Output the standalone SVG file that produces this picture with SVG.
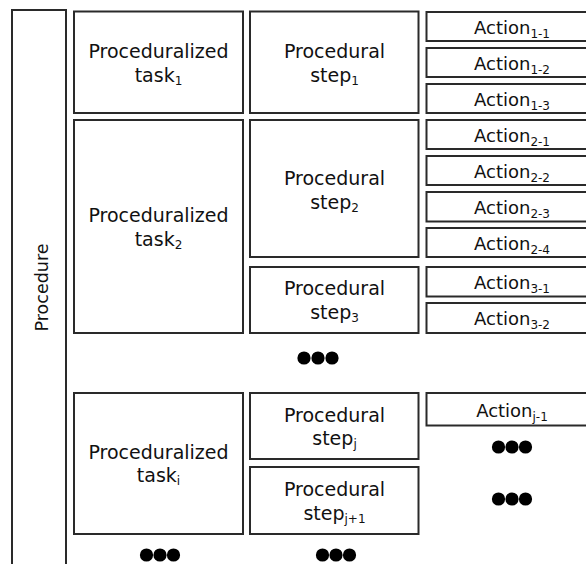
<svg xmlns="http://www.w3.org/2000/svg" width="586" height="564" viewBox="0 0 586 564">
<style>
.b{fill:#fff;stroke:#2a2a2a;stroke-width:2}
.t{font-family:"DejaVu Sans",sans-serif;font-size:19px;fill:#111;text-anchor:middle}
.a{font-family:"DejaVu Sans",sans-serif;font-size:18px;fill:#111;text-anchor:middle}
.s{font-size:12px}
.d{fill:#000}
</style>
<rect width="586" height="564" fill="#fff"/>
<g id="procedure">
<path d="M12,566 V10 H66 V566" fill="#fff" stroke="#2a2a2a" stroke-width="2"/>
<text class="t" style="font-size:17.5px" transform="translate(48,287.5) rotate(-90)">Procedure</text>
</g>
<g id="task1">
<rect class="b" x="74" y="11.5" width="169" height="101.5"/>
<text class="t" x="158.5" y="57.5">Proceduralized</text>
<text class="t" x="158.5" y="81.5">task<tspan class="s" dy="3">1</tspan></text>
</g>
<g id="task2">
<rect class="b" x="74" y="120" width="169" height="213"/>
<text class="t" x="158.5" y="221.5">Proceduralized</text>
<text class="t" x="158.5" y="245.5">task<tspan class="s" dy="3">2</tspan></text>
</g>
<g id="taski">
<rect class="b" x="74" y="393" width="169" height="141"/>
<text class="t" x="158.5" y="458.5">Proceduralized</text>
<text class="t" x="158.5" y="482">task<tspan class="s" dy="3">i</tspan></text>
</g>
<g id="step1">
<rect class="b" x="250" y="11.5" width="168.5" height="101.5"/>
<text class="t" x="334.5" y="58">Procedural</text>
<text class="t" x="334.5" y="81.5">step<tspan class="s" dy="3">1</tspan></text>
</g>
<g id="step2">
<rect class="b" x="250" y="120" width="168.5" height="137"/>
<text class="t" x="334.5" y="185">Procedural</text>
<text class="t" x="334.5" y="208.5">step<tspan class="s" dy="3">2</tspan></text>
</g>
<g id="step3">
<rect class="b" x="250" y="267" width="168.5" height="66"/>
<text class="t" x="334.5" y="295">Procedural</text>
<text class="t" x="334.5" y="318.5">step<tspan class="s" dy="3">3</tspan></text>
</g>
<g id="stepj">
<rect class="b" x="250" y="393" width="168.5" height="66"/>
<text class="t" x="334.5" y="421.5">Procedural</text>
<text class="t" x="334.5" y="445">step<tspan class="s" dy="3">j</tspan></text>
</g>
<g id="stepj1">
<rect class="b" x="250" y="467" width="168.5" height="67"/>
<text class="t" x="334.5" y="496">Procedural</text>
<text class="t" x="334.5" y="520">step<tspan class="s" dy="3">j+1</tspan></text>
</g>
<g id="action1-1"><rect class="b" x="426.5" y="12" width="175" height="29"/><text class="a" x="512" y="33.5">Action<tspan class="s" dy="4">1-1</tspan></text></g>
<g id="action1-2"><rect class="b" x="426.5" y="48" width="175" height="29"/><text class="a" x="512" y="69.5">Action<tspan class="s" dy="4">1-2</tspan></text></g>
<g id="action1-3"><rect class="b" x="426.5" y="84" width="175" height="29"/><text class="a" x="512" y="105.5">Action<tspan class="s" dy="4">1-3</tspan></text></g>
<g id="action2-1"><rect class="b" x="426.5" y="120" width="175" height="29"/><text class="a" x="512" y="141.5">Action<tspan class="s" dy="4">2-1</tspan></text></g>
<g id="action2-2"><rect class="b" x="426.5" y="156" width="175" height="29"/><text class="a" x="512" y="177.5">Action<tspan class="s" dy="4">2-2</tspan></text></g>
<g id="action2-3"><rect class="b" x="426.5" y="192" width="175" height="29.5"/><text class="a" x="512" y="213.5">Action<tspan class="s" dy="4">2-3</tspan></text></g>
<g id="action2-4"><rect class="b" x="426.5" y="228" width="175" height="29"/><text class="a" x="512" y="249.5">Action<tspan class="s" dy="4">2-4</tspan></text></g>
<g id="action3-1"><rect class="b" x="426.5" y="267" width="175" height="29.5"/><text class="a" x="512" y="288.5">Action<tspan class="s" dy="4">3-1</tspan></text></g>
<g id="action3-2"><rect class="b" x="426.5" y="303" width="175" height="30"/><text class="a" x="512" y="325">Action<tspan class="s" dy="4">3-2</tspan></text></g>
<g id="actionj-1"><rect class="b" x="426.5" y="393" width="175" height="32.5"/><text class="a" x="512" y="416.5">Action<tspan class="s" dy="4">j-1</tspan></text></g>
<g id="connectors"></g>
<g id="ellipses" class="d">
<circle cx="304" cy="358" r="6.6"/><circle cx="318" cy="358" r="6.6"/><circle cx="332" cy="358" r="6.6"/>
<circle cx="146.5" cy="555" r="6.6"/><circle cx="160" cy="555" r="6.6"/><circle cx="173.5" cy="555" r="6.6"/>
<circle cx="322.5" cy="555" r="6.6"/><circle cx="336" cy="555" r="6.6"/><circle cx="349.5" cy="555" r="6.6"/>
<circle cx="498.5" cy="447" r="6.6"/><circle cx="512" cy="447" r="6.6"/><circle cx="525.5" cy="447" r="6.6"/>
<circle cx="498.5" cy="499" r="6.6"/><circle cx="512" cy="499" r="6.6"/><circle cx="525.5" cy="499" r="6.6"/>
</g>
</svg>
